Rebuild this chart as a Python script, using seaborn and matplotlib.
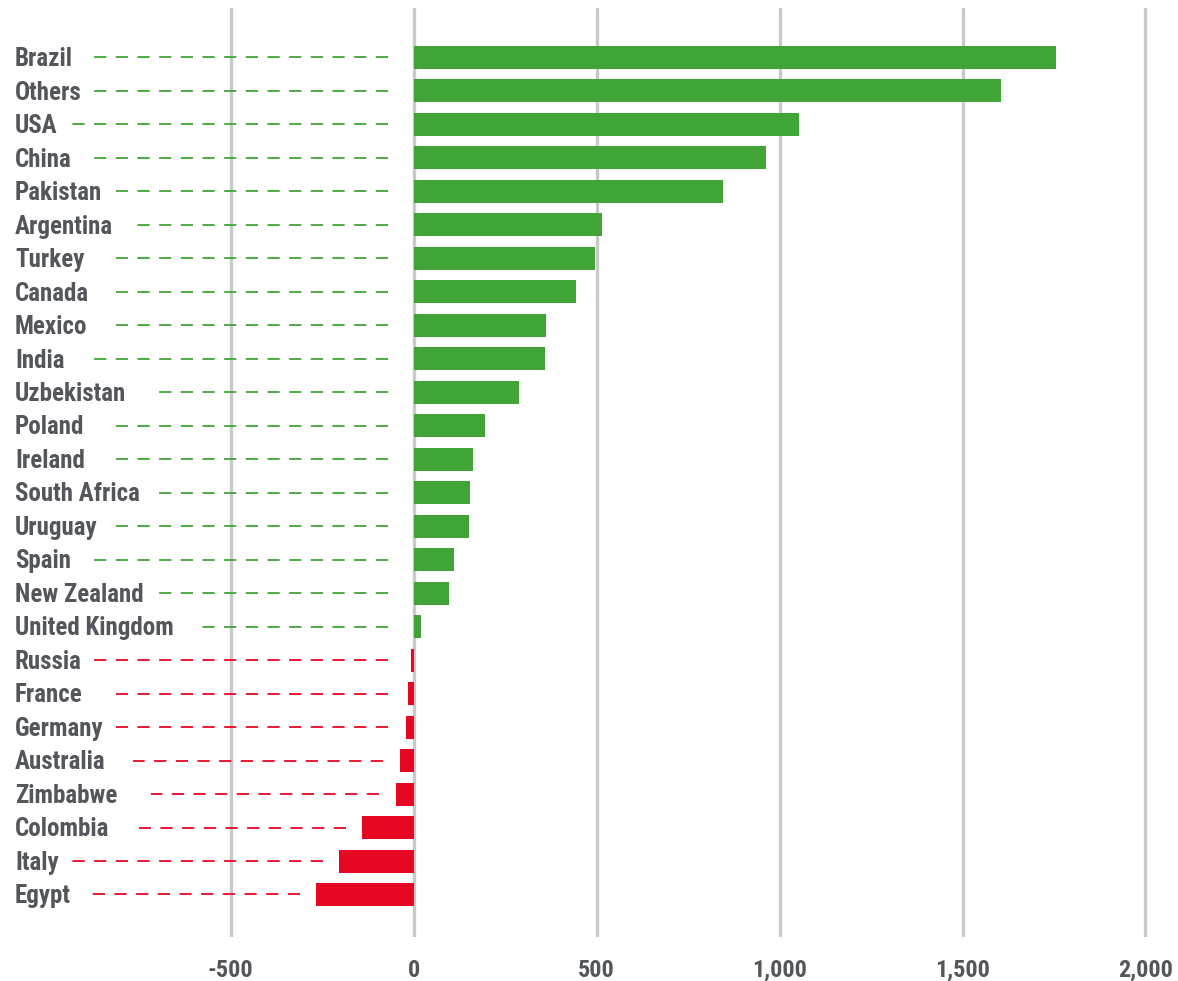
import math
import matplotlib
matplotlib.use("Agg")
import matplotlib.pyplot as plt
import matplotlib.transforms as mtransforms
from matplotlib import font_manager
import pandas as pd
import seaborn as sns

countries = [
    "Brazil", "Others", "USA", "China", "Pakistan", "Argentina", "Turkey",
    "Canada", "Mexico", "India", "Uzbekistan", "Poland", "Ireland",
    "South Africa", "Uruguay", "Spain", "New Zealand", "United Kingdom",
    "Russia", "France", "Germany", "Australia", "Zimbabwe", "Colombia",
    "Italy", "Egypt",
]
values = [
    1755, 1605, 1053, 963, 846, 515, 496, 444, 362, 359, 288, 195, 163,
    154, 151, 110, 97, 20, -7, -16, -21, -37, -48, -140, -203, -266,
]
tick_values = [-500, 0, 500, 1000, 1500, 2000]
tick_labels = ["-500", "0", "500", "1,000", "1,500", "2,000"]

GREEN = "#40A536"
RED = "#E60722"
TEXT = "#53575B"
GRID = "#C9C9C9"

sns.set_style("white")

# Pick a narrow sans face from what is installed
fonts = font_manager.fontManager.ttflist
names = {f.name for f in fonts}
stretch = "normal"
if "Roboto Condensed" in names:
    family = "Roboto Condensed"
elif "Liberation Sans Narrow" in names:
    family = "Liberation Sans Narrow"
elif any(f.name == "DejaVu Sans" and f.stretch == "condensed" for f in fonts):
    family = "DejaVu Sans"
    stretch = "condensed"
else:
    family = "DejaVu Sans"
plt.rcParams["font.family"] = [family, "DejaVu Sans"]
plt.rcParams["font.stretch"] = stretch
plt.rcParams["lines.scale_dashes"] = False

df = pd.DataFrame({"country": countries, "value": values})
df["sign"] = ["pos" if v >= 0 else "neg" for v in values]

DPI = 100
fig = plt.figure(figsize=(11.78, 9.81), dpi=DPI)
ax = fig.add_axes([0, 44 / 981, 1, 929 / 981])

sns.barplot(
    data=df, x="value", y="country", hue="sign", orient="h",
    palette={"pos": GREEN, "neg": RED}, width=0.687, dodge=False,
    legend=False, saturation=1, linewidth=0, ax=ax, zorder=3,
)

ax.set_xlim(-1129.8, 2088.8)
ax.set_ylim(26.27, -1.478)
for s in ax.spines.values():
    s.set_visible(False)

for t in tick_values:
    ax.axvline(t, color=GRID, lw=2.4, zorder=1)

ax.set_xticks(tick_values)
ax.set_xticklabels(tick_labels)
ax.tick_params(axis="x", length=0, pad=16, labelsize=17.5, labelcolor=TEXT)
for lab in ax.get_xticklabels():
    lab.set_fontweight("bold")
ax.set_yticks([])
ax.set_xlabel("")
ax.set_ylabel("")

# Row labels at the left edge, with dashed leader lines towards the bars
fig.canvas.draw()
renderer = fig.canvas.get_renderer()
label_x = 15 / 1178
base = mtransforms.blended_transform_factory(ax.transAxes, ax.transData)
text_tr = mtransforms.offset_copy(base, fig=fig, y=-8.7, units="dots")
inv = ax.transData.inverted()

DASH, GAP = 8.8, 6.8                      # points
dash_px = DASH * DPI / 72
period_px = (DASH + GAP) * DPI / 72

for i, (name, v) in enumerate(zip(countries, values)):
    color = GREEN if v >= 0 else RED
    txt = ax.text(label_x, i, name, transform=text_tr, ha="left",
                  va="baseline", fontsize=18, fontweight="bold",
                  color=TEXT, zorder=4)
    bb = txt.get_window_extent(renderer)
    end = min(-70, v - 45)
    end_px = ax.transData.transform((end, i))[0]
    # whole dashes only, counted back from the bar side
    room = end_px - (bb.x1 + 12)
    n = int(math.floor((room - dash_px) / period_px)) + 1
    start_px = end_px - ((n - 1) * period_px + dash_px)
    start = inv.transform((start_px, 0))[0]
    ax.plot([end, start], [i, i], color=color, lw=1.3,
            linestyle=(0, (DASH, GAP)), zorder=2, solid_capstyle="butt",
            dash_capstyle="butt")

fig.savefig("out.png", dpi=DPI)
